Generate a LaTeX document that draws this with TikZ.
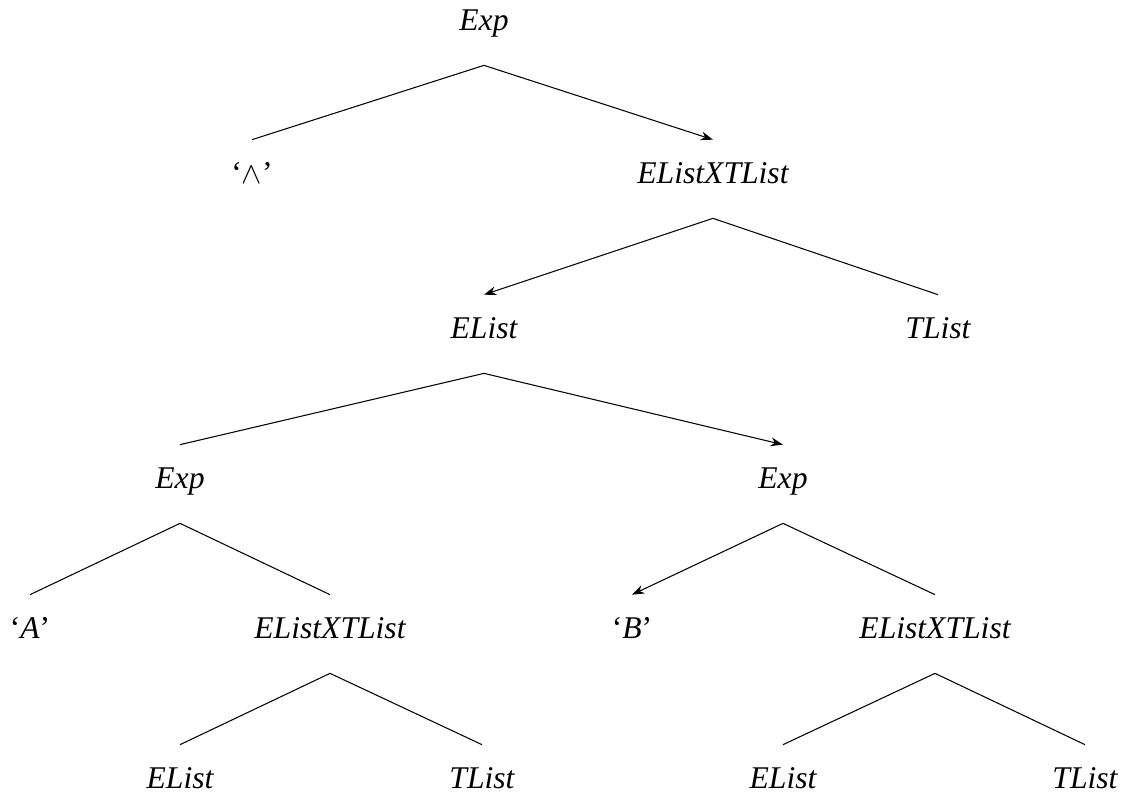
\documentclass[tikz,border=0pt]{standalone}
\usepackage{amsmath, amssymb}
\usepackage{fontspec}
\setmainfont{Liberation Serif}
\usepackage{tikz}
\usetikzlibrary{arrows.meta}

\begin{document}
\begin{tikzpicture}[x=0.02cm, y=-0.02cm, inner sep=0pt, >={Stealth[length=7pt,width=5pt]},
  lbl/.style={minimum height=1.56cm, text height=0.68em, text depth=0.2em, font=\fontsize{18}{21}\selectfont\itshape}]
\useasboundingbox (0,0) rectangle (1123,796);
\node (r) at (484,26) [lbl] {Exp};
\node (w) at (252,179) [lbl] {\textup{‘$\wedge$’}};
\node (x) at (713,179) [lbl] {EListXTList};
\node (e) at (484,334) [lbl] {EList};
\node (t) at (938,334) [lbl] {TList};
\node (p1) at (180,484) [lbl] {Exp};
\node (p2) at (783,484) [lbl] {Exp};
\node (a) at (30,634) [lbl] {\textup{‘}A\textup{’}};
\node (x1) at (330,634) [lbl] {EListXTList};
\node (b) at (632,634) [lbl] {\textup{‘}B\textup{’}};
\node (x2) at (935,634) [lbl] {EListXTList};
\node (e1) at (180,784) [lbl] {EList};
\node (t1) at (482,784) [lbl] {TList};
\node (e2) at (783,784) [lbl] {EList};
\node (t2) at (1085,784) [lbl] {TList};
\draw[-,  line width=0.6pt] (r.south) -- (w.north);
\draw[->, line width=0.6pt] (r.south) -- (x.north);
\draw[->, line width=0.6pt] (x.south) -- (e.north);
\draw[-,  line width=0.6pt] (x.south) -- (t.north);
\draw[-,  line width=0.6pt] (e.south) -- (p1.north);
\draw[->, line width=0.6pt] (e.south) -- (p2.north);
\draw[-,  line width=0.6pt] (p1.south) -- (a.north);
\draw[-,  line width=0.6pt] (p1.south) -- (x1.north);
\draw[->, line width=0.6pt] (p2.south) -- (b.north);
\draw[-,  line width=0.6pt] (p2.south) -- (x2.north);
\draw[-,  line width=0.6pt] (x1.south) -- (e1.north);
\draw[-,  line width=0.6pt] (x1.south) -- (t1.north);
\draw[-,  line width=0.6pt] (x2.south) -- (e2.north);
\draw[-,  line width=0.6pt] (x2.south) -- (t2.north);
\end{tikzpicture}
\end{document}
